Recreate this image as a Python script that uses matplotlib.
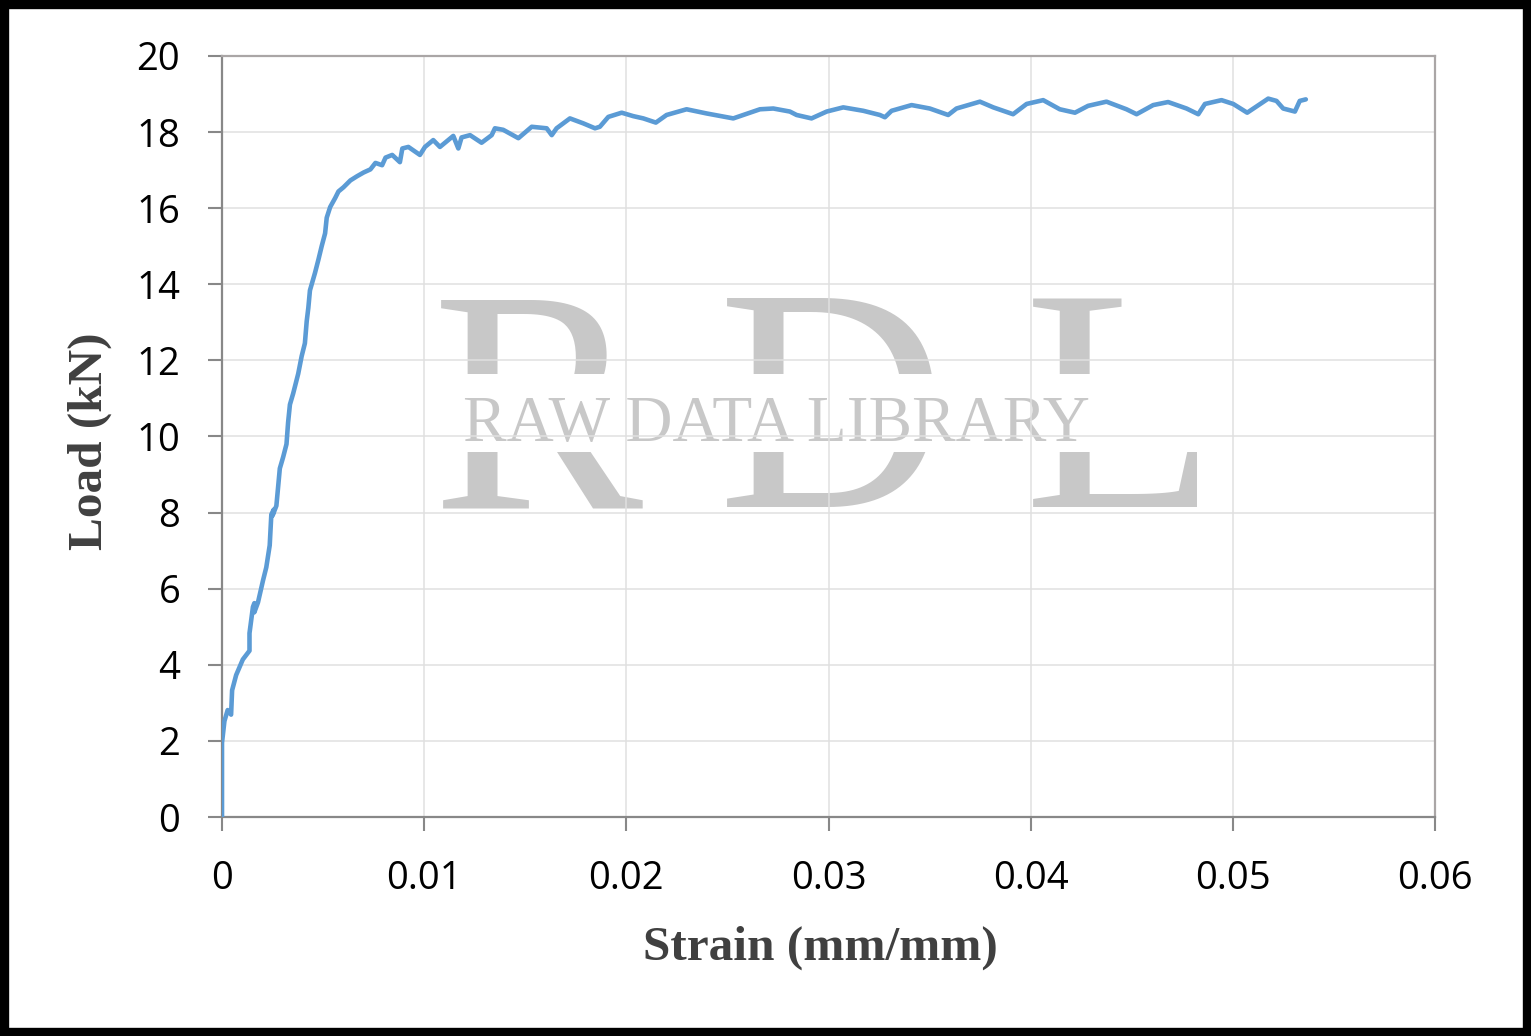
import matplotlib
matplotlib.use("Agg")
import matplotlib.pyplot as plt
from matplotlib.patches import Rectangle

# ---------------- data ----------------
strain = [0, 0, 0.00012, 0.00028, 0.00045, 0.0005, 0.0007, 0.00103, 0.00136, 0.00136,
          0.00153, 0.00160, 0.00160, 0.00178, 0.00203, 0.00219, 0.00236, 0.00244, 0.00256,
          0.00250, 0.00269, 0.00277, 0.00286, 0.00302, 0.00319, 0.00327, 0.00336, 0.00352,
          0.00377, 0.00394, 0.0041, 0.00419, 0.00427, 0.00435, 0.0046, 0.00477, 0.00493,
          0.0051, 0.00518, 0.00535, 0.0056, 0.00576, 0.00601, 0.00635, 0.00668, 0.00701,
          0.00734, 0.00759, 0.00792, 0.00809, 0.00842, 0.0088,
          0.00892, 0.00922, 0.00979, 0.01004, 0.01045, 0.01078, 0.01144, 0.01169, 0.01185,
          0.01227, 0.01284, 0.01334, 0.0135, 0.01391, 0.01466, 0.01532, 0.01606, 0.01631,
          0.01655, 0.01721, 0.01787, 0.01845, 0.01869, 0.01911, 0.01977, 0.02034, 0.02084,
          0.02146, 0.02199, 0.02298, 0.02397, 0.02529, 0.02661, 0.02727, 0.02809, 0.02842,
          0.02916, 0.02991, 0.03073, 0.03172, 0.03254, 0.03279, 0.03312, 0.03411, 0.03501,
          0.03592, 0.03633, 0.03749, 0.03815, 0.03913, 0.0398, 0.04062, 0.04144, 0.04219,
          0.04284, 0.04375, 0.04474, 0.04524, 0.04606, 0.0468, 0.04771, 0.04829, 0.04862,
          0.04944, 0.05002, 0.05071, 0.05175, 0.05216, 0.05249, 0.05307, 0.05331, 0.05361]
load = [0, 1.95, 2.52, 2.81, 2.69, 3.33, 3.73, 4.14, 4.37, 4.83,
        5.52, 5.62, 5.38, 5.64, 6.22, 6.56, 7.14, 7.95, 8.08,
        7.92, 8.18, 8.64, 9.16, 9.45, 9.80, 10.37, 10.84, 11.13,
        11.65, 12.11, 12.45, 13.03, 13.38, 13.84, 14.30, 14.65, 15.0,
        15.34, 15.75, 16.03, 16.27, 16.44, 16.55, 16.73, 16.84, 16.94,
        17.02, 17.19, 17.13, 17.33, 17.40, 17.21,
        17.57, 17.61, 17.40, 17.61, 17.79, 17.61, 17.90, 17.57, 17.86,
        17.92, 17.72, 17.92, 18.10, 18.06, 17.84, 18.14, 18.10, 17.92,
        18.10, 18.36, 18.23, 18.10, 18.14, 18.40, 18.51, 18.42, 18.36,
        18.25, 18.45, 18.60, 18.49, 18.36, 18.60, 18.62, 18.54, 18.45,
        18.36, 18.54, 18.65, 18.56, 18.45, 18.39, 18.56, 18.71, 18.62,
        18.45, 18.62, 18.80, 18.65, 18.47, 18.74, 18.84, 18.60, 18.51,
        18.69, 18.80, 18.60, 18.47, 18.71, 18.79, 18.62, 18.47, 18.74,
        18.84, 18.74, 18.51, 18.88, 18.82, 18.62, 18.54, 18.82, 18.86]

x_ticks = [0, 0.01, 0.02, 0.03, 0.04, 0.05, 0.06]
x_tick_labels = ["0", "0.01", "0.02", "0.03", "0.04", "0.05", "0.06"]
y_ticks = [0, 2, 4, 6, 8, 10, 12, 14, 16, 18, 20]
y_tick_labels = [str(v) for v in y_ticks]

x_label = "Strain (mm/mm)"
y_label = "Load (kN)"
wm_letters = ["R", "D", "L"]
wm_text = "RAW DATA LIBRARY"

# ---------------- figure ----------------
W, H = 1531, 1036
fig = plt.figure(figsize=(W / 100, H / 100), dpi=100)
ax = fig.add_axes([222 / W, 1 - 817 / H, (1435 - 222) / W, (817 - 56) / H])

ax.plot(strain, load, color="#5B9BD5", lw=3.3, solid_joinstyle="round",
        solid_capstyle="round", zorder=3)

ax.set_xlim(0, 0.06)
ax.set_ylim(0, 20)
ax.set_xticks(x_ticks)
ax.set_xticklabels(x_tick_labels)
ax.set_yticks(y_ticks)
ax.set_yticklabels(y_tick_labels)

ax.set_axisbelow(True)
ax.grid(True, color="#E0E0E0", lw=1.1, zorder=0)

for s in ["left", "bottom"]:
    ax.spines[s].set_color("#888888")
    ax.spines[s].set_linewidth(1.6)
for s in ["top", "right"]:
    ax.spines[s].set_color("#AAA6A6")
    ax.spines[s].set_linewidth(1.6)

ax.tick_params(axis="both", which="major", direction="out", length=10, width=1.5,
               color="#888888", labelcolor="black", labelsize=27.5)
ax.tick_params(axis="y", pad=20)
ax.tick_params(axis="x", pad=21)
for lab in ax.get_xticklabels() + ax.get_yticklabels():
    lab.set_fontfamily(["Open Sans", "DejaVu Sans"])

label_font = dict(family=["Liberation Serif", "DejaVu Serif"], weight="bold",
                  size=35.5, color="#404040")
fig.text(820 / W, 1 - 948 / H, x_label, ha="center", va="center", **label_font)
fig.text(90 / W, 1 - 441 / H, y_label, ha="center", va="center", rotation=90, **label_font)

# ---------------- watermark ----------------
wm_color = "#C8C8C8"
letter_x = [432, 718, 1024]
clip_top = Rectangle((0, 1 - 374 / H), 1, 374 / H, transform=fig.transFigure,
                     fill=False, visible=False)
clip_bot = Rectangle((0, 0), 1, 1 - 452 / H, transform=fig.transFigure,
                     fill=False, visible=False)
fig.add_artist(clip_top)
fig.add_artist(clip_bot)
for letter, lx in zip(wm_letters, letter_x):
    for clip in (clip_top, clip_bot):
        t = fig.text(lx / W, 1 - 507 / H, letter, ha="left", va="baseline",
                     family=["Liberation Serif", "DejaVu Serif"], size=228,
                     color=wm_color, zorder=1)
        t.set_clip_path(clip)
        t.set_clip_on(True)
fig.text(463 / W, 1 - 441 / H, wm_text, ha="left", va="baseline",
         family=["Liberation Serif", "DejaVu Serif"], size=47, color=wm_color, zorder=1)

# axes above figure-level watermark texts
ax.set_zorder(2)
ax.patch.set_alpha(0)

# ---------------- border ----------------
fig.add_artist(Rectangle((0, 0), 1, 1, transform=fig.transFigure, fill=False,
                         edgecolor="black", lw=12.5, zorder=10))

fig.savefig("out.png", dpi=100, facecolor="white")
